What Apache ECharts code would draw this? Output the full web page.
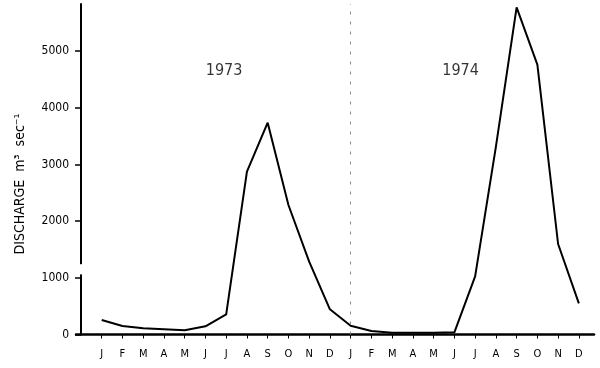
<!DOCTYPE html>
<html><head><meta charset="utf-8">
<script src="https://cdn.jsdelivr.net/npm/echarts@6/dist/echarts.min.js"></script>
<style>html,body{margin:0;padding:0;background:#fff}#c{width:600px;height:368px}</style>
</head><body><div id="c"></div>
<script>
const monthLabels = ['J','F','M','A','M','J','J','A','S','O','N','D','J','F','M','A','M','J','J','A','S','O','N','D'];
const discharge1973 = [256, 150, 109, 92, 74, 145, 356, 2871, 3735, 2284, 1284, 444];
const discharge1974 = [155, 62, 32, 30, 30, 39, 1025, 3310, 5771, 4760, 1596, 550];
const yTicks = [0, 1000, 2000, 3000, 4000, 5000];
const yearLabels = ['1973', '1974'];
const yearLabelX = [5.9, 17.3];
const yearLabelY = [4650, 4650];
const axisBreakRange = [1060, 1240];
const yAxisTitle = 'DISCHARGE  m\u00B3  sec\u207B\u00B9';

const FONT = '"DejaVu Sans Condensed","DejaVu Sans",sans-serif';
const values = discharge1973.concat(discharge1974);
const lineData = values.map((v, i) => [i, v]);
const monthIdx = monthLabels.map((_, i) => i);
const yearData = yearLabels.map((t, i) => [yearLabelX[i], yearLabelY[i], t]);

const chart = echarts.init(document.getElementById('c'), null, {renderer: 'canvas'});
chart.setOption({
  animation: false,
  backgroundColor: '#fff',
  grid: {left: 76, right: 6, top: 4, bottom: 33.5},
  xAxis: {
    type: 'value', min: -1.24, max: 23.73,
    axisLine: {show: true, onZero: false, lineStyle: {color: '#000', width: 2.5}},
    axisTick: {show: true, customValues: monthIdx, length: 4, lineStyle: {color: '#000', width: 1}},
    axisLabel: {customValues: monthIdx, formatter: v => monthLabels[Math.round(v)] || '',
      color: '#000', fontFamily: FONT, fontSize: 11, margin: 14},
    splitLine: {show: false}
  },
  yAxis: {
    type: 'value', min: 0, max: 5829, offset: -5,
    axisLine: {show: true, onZero: false, lineStyle: {color: '#000', width: 2}},
    axisTick: {show: true, customValues: yTicks, length: 6, lineStyle: {color: '#000', width: 1.5}},
    axisLabel: {customValues: yTicks, formatter: v => String(v), color: '#000', fontFamily: FONT, fontSize: 12, margin: 12},
    splitLine: {show: false}
  },
  series: [
    {
      type: 'line', data: lineData, symbol: 'none', smooth: false,
      lineStyle: {color: '#000', width: 2},
      markLine: {
        silent: true, symbol: 'none', label: {show: false},
        lineStyle: {type: [3, 7], color: '#8a8a8a', width: 1},
        data: [{xAxis: 12}]
      }
    },
    {
      type: 'scatter', data: yearData, symbolSize: 0, silent: true,
      itemStyle: {color: '#000'},
      label: {show: true, position: 'inside', formatter: p => p.data[2],
        color: '#000', textBorderWidth: 0, fontFamily: FONT, fontSize: 16}
    }
  ]
});

const yA = chart.convertToPixel({yAxisIndex: 0}, axisBreakRange[0]);
const yB = chart.convertToPixel({yAxisIndex: 0}, axisBreakRange[1]);
const xAx = chart.convertToPixel({xAxisIndex: 0}, -1.24) + 5;
chart.setOption({
  graphic: [
    {type: 'rect', shape: {x: xAx - 3, y: yB, width: 6, height: yA - yB}, style: {fill: '#fff'}, z: 100},
    {type: 'text', x: 20, y: 184, rotation: Math.PI / 2,
      style: {text: yAxisTitle, fill: '#000', font: '14px ' + FONT, align: 'center', verticalAlign: 'middle'}}
  ]
});
</script>
</body></html>
